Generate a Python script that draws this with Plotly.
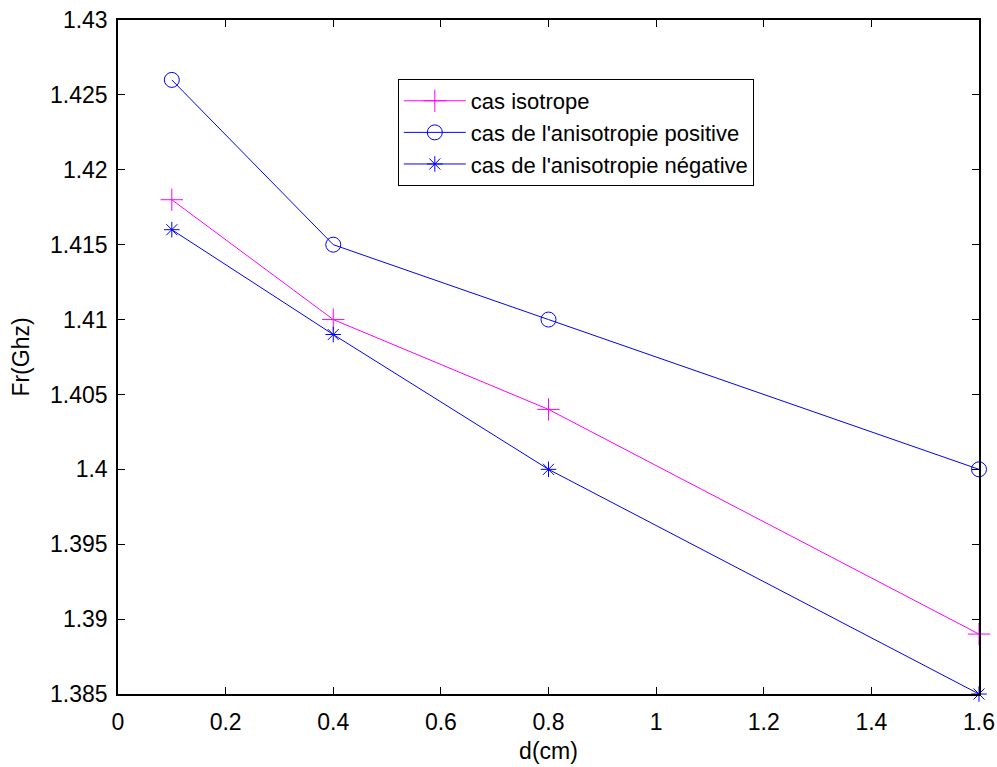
import plotly.graph_objects as go

d_cm = [0.1, 0.4, 0.8, 1.6]
fr_isotrope = [1.418, 1.410, 1.404, 1.389]
fr_positive = [1.426, 1.415, 1.410, 1.400]
fr_negative = [1.416, 1.409, 1.400, 1.385]
names = ["cas isotrope", "cas de l'anisotropie positive", "cas de l'anisotropie négative"]

x_ticks = [0, 0.2, 0.4, 0.6, 0.8, 1, 1.2, 1.4, 1.6]
x_labels = ["0", "0.2", "0.4", "0.6", "0.8", "1", "1.2", "1.4", "1.6"]
y_ticks = [1.385, 1.39, 1.395, 1.4, 1.405, 1.41, 1.415, 1.42, 1.425, 1.43]
y_labels = ["1.385", "1.39", "1.395", "1.4", "1.405", "1.41", "1.415", "1.42", "1.425", "1.43"]

FONT = "Liberation Sans, Arial, sans-serif"
FS = 23

fig = go.Figure()
fig.add_trace(go.Scatter(x=d_cm, y=fr_isotrope, name=names[0], mode="lines+markers",
                         line=dict(color="#ff00ff", width=1),
                         marker=dict(symbol="cross-thin-open", size=16, color="#ff00ff",
                                     line=dict(color="#ff00ff", width=1)),
                         cliponaxis=False))
fig.add_trace(go.Scatter(x=d_cm, y=fr_positive, name=names[1], mode="lines+markers",
                         line=dict(color="#0000ff", width=1),
                         marker=dict(symbol="circle-open", size=15, color="#0000ff",
                                     line=dict(color="#0000ff", width=1)),
                         cliponaxis=False))
fig.add_trace(go.Scatter(x=d_cm, y=fr_negative, name=names[2], mode="lines+markers",
                         line=dict(color="#0000ff", width=1),
                         marker=dict(symbol="asterisk-open", size=13, color="#0000ff",
                                     line=dict(color="#0000ff", width=1)),
                         cliponaxis=False))

axis_common = dict(showgrid=False, zeroline=False, showline=True, linecolor="black",
                   linewidth=1.5, mirror="ticks", ticks="inside", ticklen=7,
                   tickcolor="black", automargin=False, ticklabeloverflow="allow",
                   tickfont=dict(family=FONT, size=FS, color="black"))

fig.update_layout(
    width=997, height=767,
    paper_bgcolor="white", plot_bgcolor="white",
    margin=dict(l=118, r=18, t=20, b=73),
    font=dict(family=FONT, size=FS, color="black"),
    xaxis=dict(range=[0, 1.6], tickvals=x_ticks, ticktext=x_labels, ticklabelstandoff=7,
               title=dict(text="d(cm)", font=dict(size=FS), standoff=9), **axis_common),
    yaxis=dict(range=[1.385, 1.43], tickvals=y_ticks, ticktext=y_labels, ticklabelstandoff=4,
               title=dict(text="Fr(Ghz)", font=dict(size=FS), standoff=14), **axis_common),
    legend=dict(x=0.325, y=0.9125, xanchor="left", yanchor="top",
                bgcolor="white", bordercolor="black", borderwidth=1,
                font=dict(family=FONT, size=22, color="black"),
                itemwidth=62, tracegroupgap=0),
    showlegend=True,
)

# remove the default 8px page margin so the figure fills the window exactly
fig.write_html("out.html", config={"displayModeBar": False},
               post_script="document.body.style.margin='0';document.body.style.overflow='hidden';")
